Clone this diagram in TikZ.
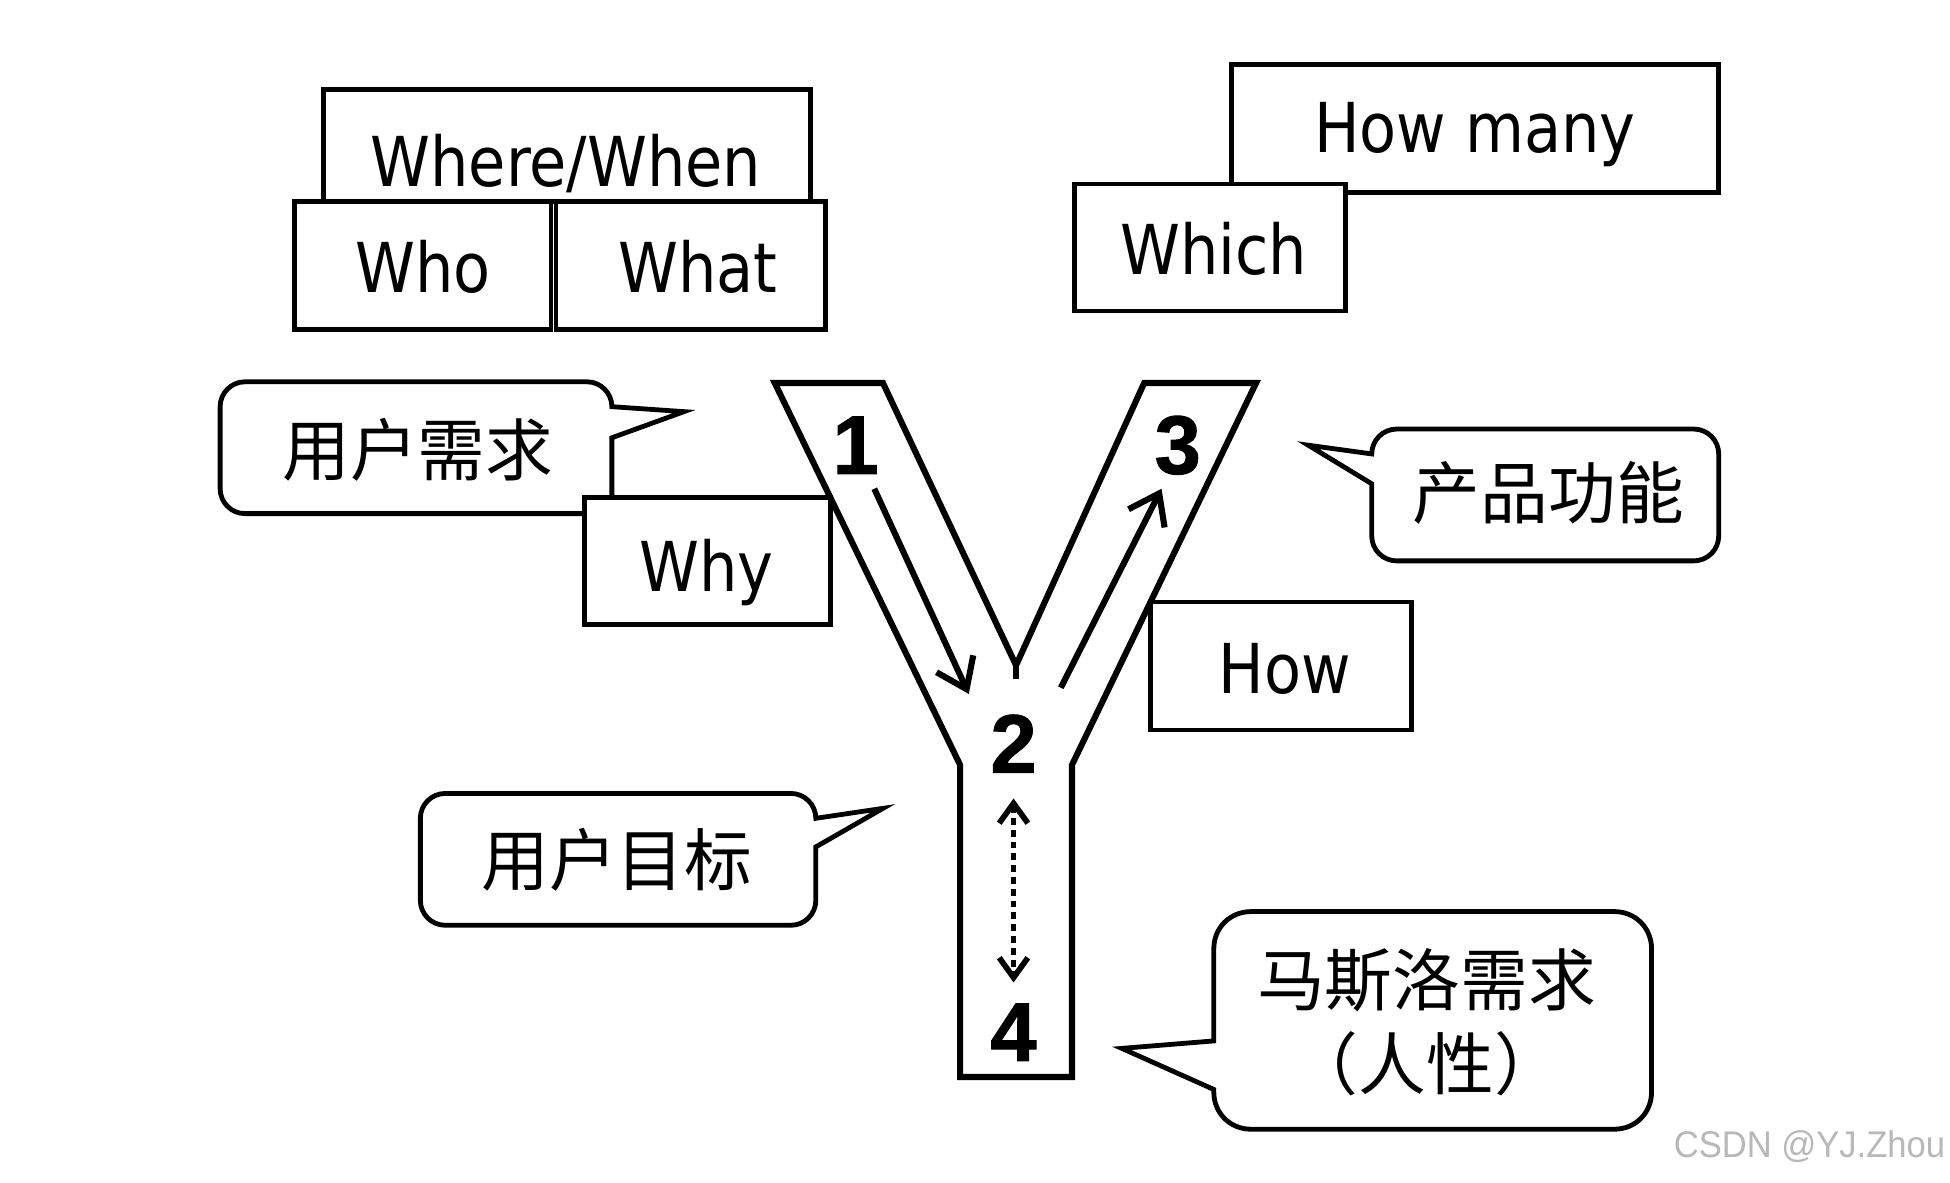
\documentclass[tikz,border=0pt]{standalone}
\usepackage{fontspec}
\setmainfont{DejaVu Sans}[FakeStretch=0.88]
\newfontfamily\cjk{Noto Sans CJK SC}
\newfontfamily\numfont[BoldFeatures={FakeBold=1.2}]{Liberation Sans}
\usetikzlibrary{arrows.meta}
\begin{document}
\begin{tikzpicture}[x=0.02cm,y=-0.02cm,
  box/.style={draw, line width=2.2pt, fill=white, inner sep=0pt},
  lat/.style={font=\fontsize{31.5}{36}\selectfont, anchor=base, inner sep=0pt},
  cjkt/.style={font=\cjk\fontsize{31}{36}\selectfont, inner sep=0pt},
  num/.style={font=\numfont\bfseries\fontsize{38}{40}\selectfont, inner sep=0pt},
  callout/.style={draw, line width=2.2pt, fill=white, line join=miter},
  yline/.style={draw, line width=2.8pt, line join=miter},
  arr/.style={line width=2.8pt, -{Straight Barb[length=0.45cm,width=0.65cm]}},
  darr/.style={line width=2.6pt, dash pattern=on 0.11cm off 0.08cm,
     {Straight Barb[length=0.32cm,width=0.46cm]}-{Straight Barb[length=0.32cm,width=0.46cm]}},
  wmark/.style={font=\numfont\fontsize{17}{20}\selectfont, text=black!28, inner sep=0pt}
]
\useasboundingbox[fill=white] (0,0) rectangle (1568,951.2);

% top-left boxes
\node[box, minimum width=392*0.02cm, minimum height=90*0.02cm] (ww) at (456,117) {};
\node[lat] (tww) at (455,150) {Where/When};
\node[box, minimum width=206*0.02cm, minimum height=103*0.02cm] (who) at (340,213.5) {};
\node[lat] (twho) at (340,235) {Who};
\node[box, minimum width=217*0.02cm, minimum height=103*0.02cm] (what) at (555.5,213.5) {};
\node[lat] (twhat) at (561,235) {What};

% top-right boxes
\node[box, minimum width=392*0.02cm, minimum height=103*0.02cm] (howmany) at (1186,103.5) {};
\node[lat] (thowmany) at (1186,123) {How many};
\node[box, minimum width=218*0.02cm, minimum height=102*0.02cm] (which) at (973,199) {};
\node[lat] (twhich) at (976,221) {Which};

% callout 1
\draw[callout] (330,413) -- (197,413) .. controls (186,413) and (177,404) .. (177,393) -- (177,327)
  .. controls (177,316) and (186,307) .. (197,307) -- (472,307) .. controls (483,307) and (492,316) .. (492,327)
  -- (550,331) -- (492,352) -- (492,413) -- cycle;
\node[cjkt] (c1) at (336,362) {用户需求};

\node[box, minimum width=198*0.02cm, minimum height=102*0.02cm] (why) at (569,451) {};
\node[lat] (twhy) at (568,476) {Why};

% Y shape
\draw[yline] (623,308) -- (710,308) -- (817,535) -- (920,308) -- (1010,308) -- (862,615)
  -- (862,866) -- (772,866) -- (772,615) -- cycle;
\coordinate (vtx) at (817,535);
\coordinate (vtxb) at (817,546);
\draw[line width=2.8pt] (vtx) -- (vtxb);

\node[num] (n1) at (688,358) {1};
\node[num] (n3) at (947,358) {3};
\node[num] (n2) at (815,598) {2};
\node[num] (n4) at (815,830) {4};

\coordinate (a1s) at (703,393);
\coordinate (a1e) at (779,558);
\coordinate (a3s) at (853,553);
\coordinate (a3e) at (934,393);
\coordinate (d1) at (815,642);
\coordinate (d2) at (815,790);
\draw[arr] (a1s) -- (a1e);
\draw[arr] (a3s) -- (a3e);
\draw[darr] (d1) -- (d2);

\node[box, minimum width=210*0.02cm, minimum height=103*0.02cm] (how) at (1030,535.5) {};
\node[lat] (thow) at (1033,558) {How};

% callout 2
\draw[callout] (1240,451) -- (1362,451) .. controls (1373,451) and (1382,442) .. (1382,431) -- (1382,365)
  .. controls (1382,354) and (1373,345) .. (1362,345) -- (1123,345) .. controls (1112,345) and (1103,354) .. (1103,365)
  -- (1052,358) -- (1103,389) -- (1103,431) .. controls (1103,442) and (1112,451) .. (1123,451) -- cycle;
\node[cjkt] (c2) at (1245,396) {产品功能};

% callout 3
\draw[callout] (500,744) -- (358,744) .. controls (347,744) and (338,735) .. (338,724) -- (338,658)
  .. controls (338,647) and (347,638) .. (358,638) -- (636,638) .. controls (647,638) and (656,647) .. (656,658)
  -- (710,650) -- (656,681) -- (656,724) .. controls (656,735) and (647,744) .. (636,744) -- cycle;
\node[cjkt] (c3) at (496,691) {用户目标};

% callout 4
\draw[callout] (1150,908) -- (1298,908) .. controls (1315,908) and (1328,895) .. (1328,878) -- (1328,763)
  .. controls (1328,746) and (1315,733) .. (1298,733) -- (1006,733) .. controls (989,733) and (976,746) .. (976,763)
  -- (976,837) -- (902,843) -- (976,876) -- (976,878) .. controls (976,895) and (989,908) .. (1006,908) -- cycle;
\node[cjkt] (c4a) at (1147,788) {马斯洛需求};
\node[cjkt] (c4b) at (1147,855) {（人性）};

\node[wmark] (wm) at (1455,922) {\scalebox{0.93}[1]{CSDN @YJ.Zhou}};
\end{tikzpicture}
\end{document}
